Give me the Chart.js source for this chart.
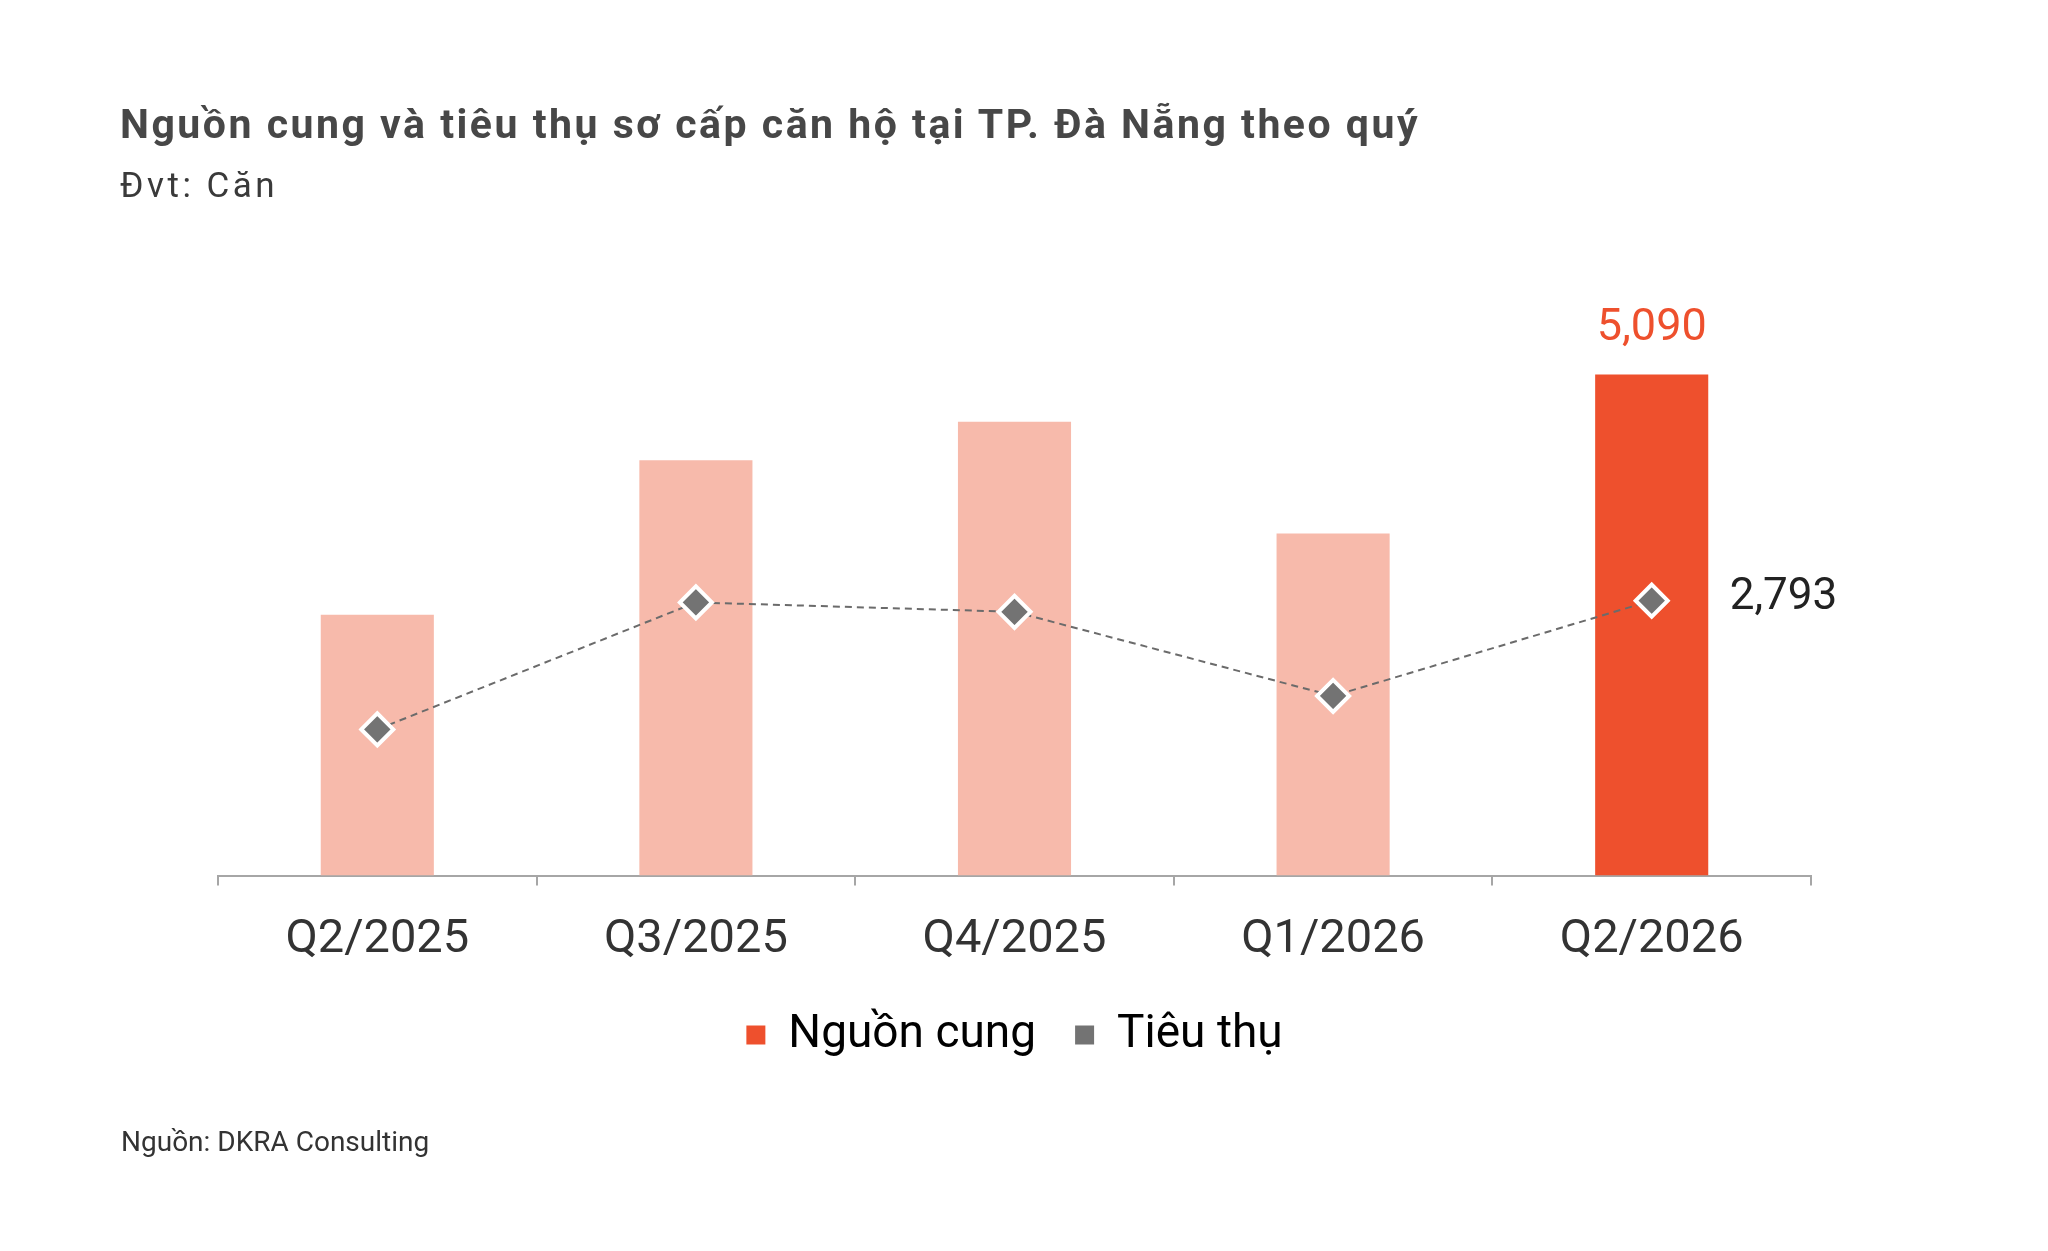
<!DOCTYPE html>
<html>
<head>
<meta charset="utf-8">
<script src="https://cdn.jsdelivr.net/npm/chart.js@4/dist/chart.umd.min.js"></script>
<style>
  html, body { margin: 0; padding: 0; background: #ffffff; }
  body { width: 2048px; height: 1251px; position: relative; overflow: hidden; font-family: Roboto, "Noto Sans", sans-serif; }
  #wrap { position: absolute; left: 0; top: 0; width: 2048px; height: 1251px; }
  .txt { position: absolute; white-space: nowrap; line-height: 1; }
  #title { left: 120px; top: 104px; font-size: 41px; font-weight: 700; color: #474747; letter-spacing: 2.5px; }
  #subtitle { left: 120px; top: 168px; font-size: 35px; color: #3a3a3a; letter-spacing: 3.5px; }
  #source { left: 121px; top: 1128px; font-size: 28px; color: #333333; }
</style>
</head>
<body>
<div id="wrap"><canvas id="c" width="2048" height="1251"></canvas></div>
<div class="txt" id="title">Nguồn cung và tiêu thụ sơ cấp căn hộ tại TP. Đà Nẵng theo quý</div>
<div class="txt" id="subtitle">Đvt: Căn</div>
<div class="txt" id="source">Nguồn: DKRA Consulting</div>
<script>
const categories = ['Q2/2025', 'Q3/2025', 'Q4/2025', 'Q1/2026', 'Q2/2026'];
const supplyLabel = 'Nguồn cung';
const salesLabel = 'Tiêu thụ';
const supply = [2650, 4220, 4610, 3475, 5090];
const sales = [1485, 2775, 2680, 1825, 2793];

const LIGHT = '#F7BAAB';
const DARK = '#EE502D';
const GREY = '#737373';
const FONT = 'Roboto';

const fmt = v => v.toLocaleString('en-US');

const labelPlugin = {
  id: 'valueLabels',
  afterDatasetsDraw(chart) {
    const ctx = chart.ctx;
    const last = categories.length - 1;
    const barEl = chart.getDatasetMeta(0).data[last];
    const lineEl = chart.getDatasetMeta(1).data[last];
    ctx.save();
    ctx.textBaseline = 'middle';
    ctx.textAlign = 'center';
    ctx.fillStyle = DARK;
    ctx.font = '45px ' + FONT;
    ctx.fillText(fmt(supply[last]), barEl.x, barEl.y - 46);
    ctx.textAlign = 'left';
    ctx.fillStyle = '#222222';
    ctx.font = '44px ' + FONT;
    ctx.fillText(fmt(sales[last]), lineEl.x + 78, lineEl.y - 3);
    ctx.restore();
  }
};

const legendShift = {
  id: 'legendShift',
  afterLayout(chart) {
    if (chart.legend) {
      chart.legend.top -= 21;
      chart.legend.bottom -= 21;
    }
  }
};

new Chart(document.getElementById('c'), {
  type: 'bar',
  data: {
    labels: categories,
    datasets: [
      {
        type: 'bar',
        label: supplyLabel,
        data: supply,
        order: 1,
        backgroundColor: c => c.dataIndex === categories.length - 1 ? DARK : LIGHT,
        borderWidth: 0,
        barPercentage: 0.355,
        categoryPercentage: 1.0
      },
      {
        type: 'line',
        label: salesLabel,
        data: sales,
        order: 0,
        borderColor: '#6b6b6b',
        borderWidth: 2,
        borderDash: [7, 5],
        fill: false,
        tension: 0,
        pointStyle: 'rectRot',
        pointRadius: 16,
        pointHoverRadius: 16,
        pointBackgroundColor: GREY,
        pointBorderColor: '#ffffff',
        pointBorderWidth: 4
      }
    ]
  },
  options: {
    responsive: false,
    animation: false,
    devicePixelRatio: 1,
    layout: { padding: { left: 218, right: 237, top: 285, bottom: 162 } },
    scales: {
      x: {
        offset: true,
        grid: { display: true, drawOnChartArea: false, drawTicks: true, tickLength: 10, color: '#a6a6a6', lineWidth: 2, offset: true },
        border: { display: true, color: '#a6a6a6', width: 2 },
        ticks: { color: '#333333', font: { family: FONT, size: 47 }, padding: 26, maxRotation: 0 }
      },
      y: {
        display: false,
        min: 0,
        max: 6000
      }
    },
    plugins: {
      legend: {
        display: true,
        position: 'bottom',
        labels: {
          font: { family: FONT, size: 46 },
          color: '#333333',
          boxWidth: 19,
          boxHeight: 19,
          padding: 39,
          generateLabels: () => [
            { text: supplyLabel, fillStyle: DARK, strokeStyle: DARK, lineWidth: 0, datasetIndex: 0 },
            { text: salesLabel, fillStyle: GREY, strokeStyle: GREY, lineWidth: 0, datasetIndex: 1 }
          ]
        }
      },
      tooltip: { enabled: false },
      title: { display: false }
    }
  },
  plugins: [labelPlugin, legendShift]
});
</script>
</body>
</html>
